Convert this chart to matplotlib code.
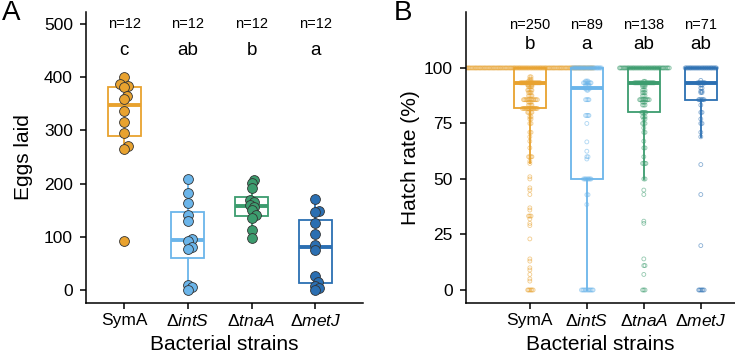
"""
Eggs laid and hatch rate per bacterial strain (two panels).
"""
import matplotlib
matplotlib.use("Agg")
import matplotlib.pyplot as plt
import numpy as np

plt.rcParams['font.family'] = ['Liberation Sans', 'DejaVu Sans']
plt.rcParams['mathtext.fontset'] = 'custom'
plt.rcParams['mathtext.rm'] = 'Liberation Sans'
plt.rcParams['mathtext.it'] = 'Liberation Sans:italic'

strains = ['SymA', r'$\Delta\mathit{intS}$', r'$\Delta\mathit{tnaA}$', r'$\Delta\mathit{metJ}$']
colors = ['#E8A22F', '#6BB5EA', '#3C9C6E', '#2B6FB2']

# panel A: eggs laid per female
syma_eggs = [401, 387, 384, 382, 365, 359, 336, 315, 295, 270, 265, 92]
ints_eggs = [208, 182, 164, 141, 130, 95, 92, 80, 77, 10, 5, 0]
tnaa_eggs = [207, 201, 192, 170, 165, 160, 156, 150, 141, 136, 113, 98]
metj_eggs = [172, 149, 146, 126, 105, 84, 76, 27, 15, 8, 3, 0]
eggs_n = ['n=12', 'n=12', 'n=12', 'n=12']
eggs_sig = ['c', 'ab', 'b', 'a']

# panel B: hatch rate (%) -> value and how many clutches had it
syma_rate = [0, 4, 5, 7, 9, 10, 13, 14, 23, 29, 30, 32, 33.3, 36, 37, 43, 45, 46, 50, 51,
             57, 58, 60, 64, 67, 69, 71, 75, 77, 78, 80,
             81.8, 83.3, 84.6, 85.7, 87.5, 88.9, 90, 91.7, 92.3, 93.3, 94.1, 95, 96, 100]
syma_cnt = [6, 1, 1, 1, 1, 1, 1, 1, 1, 1, 1, 1, 3, 1, 1, 1, 1, 1, 1, 1,
            1, 1, 4, 1, 1, 1, 2, 2, 2, 2, 5,
            15, 4, 3, 14, 4, 3, 5, 4, 5, 20, 3, 2, 2, 117]
ints_rate = [0, 38.5, 42.9, 50, 59, 60, 62.5, 66.7, 75, 78.6, 85.7, 90, 90.9, 92.3, 93.3, 94.1, 100]
ints_cnt = [12, 1, 2, 8, 1, 2, 1, 1, 1, 4, 4, 2, 6, 4, 8, 3, 29]
tnaa_rate = [0, 7, 11, 14, 30, 31, 43, 45, 50, 57, 60, 64, 67, 71, 73, 75, 77, 78, 80,
             83.3, 84.6, 85.7, 87.5, 88.9, 90, 91.7, 92.3, 93.3, 94, 100]
tnaa_cnt = [3, 1, 2, 1, 1, 1, 1, 1, 2, 4, 1, 2, 1, 2, 1, 3, 2, 3, 5,
            3, 3, 10, 3, 3, 3, 3, 3, 20, 2, 48]
metj_rate = [0, 20, 43, 56.5, 69, 71, 75, 77, 80, 83.3, 85.7, 88.9, 89.5, 90.9, 92.3, 93.3, 94.4, 100]
metj_cnt = [6, 1, 1, 1, 1, 1, 2, 1, 2, 1, 6, 2, 2, 2, 2, 8, 1, 31]
hatch_n = ['n=250', 'n=89', 'n=138', 'n=71']
hatch_sig = ['b', 'a', 'ab', 'ab']


def swarm(vals, xpx, ypx, dmin):
    # greedy beeswarm, offsets returned in data units of x
    order = np.argsort(vals)
    placed = []
    offs = np.zeros(len(vals))
    step = dmin / 3.0
    for i in order:
        y = vals[i] * ypx
        for j in range(2000):
            o = ((j + 1) // 2) * step * (1 if j % 2 else -1)
            ok = True
            for (px, py) in placed:
                if (px - o) ** 2 + (py - y) ** 2 < dmin ** 2:
                    ok = False
                    break
            if ok:
                break
        placed.append((o, y))
        offs[i] = o / xpx
    return offs


def style_box(bp, c, lw, mlw):
    for k, b in enumerate(bp['boxes']):
        b.set_facecolor('none')
        b.set_edgecolor(c[k])
        b.set_linewidth(lw)
        bp['medians'][k].set_color(c[k])
        bp['medians'][k].set_linewidth(mlw)
        bp['medians'][k].set_solid_capstyle('butt')
        for w in bp['whiskers'][2 * k:2 * k + 2]:
            w.set_color(c[k])
            w.set_linewidth(lw)


def style_ax(ax):
    for s in ['top', 'right']:
        ax.spines[s].set_visible(False)
    for s in ['left', 'bottom']:
        ax.spines[s].set_linewidth(1.1)
    ax.tick_params(direction='out', length=4, width=1.1, labelsize=12.5, colors='black')
    ax.tick_params(axis='y', pad=5.5)


fig = plt.figure(figsize=(7.35, 3.53), dpi=100)

# ---- panel A
ax = fig.add_axes([86 / 735, 50 / 353, 277 / 735, 291 / 353])
eggs = [syma_eggs, ints_eggs, tnaa_eggs, metj_eggs]
pos = [1, 2, 3, 4]
bp = ax.boxplot(eggs, positions=pos, widths=0.52, patch_artist=True, showcaps=False,
                showfliers=False, whis=1.5, zorder=2)
style_box(bp, colors, 1.3, 2.8)
for k, v in enumerate(eggs):
    v = np.array(v, dtype=float)
    off = swarm(v, 63.7, 0.532, 4.0)
    ax.scatter(pos[k] + off, v, s=50, color=colors[k], edgecolor='#333333',
               linewidth=0.6, zorder=3)
    ax.text(pos[k], 500, eggs_n[k], ha='center', va='center', fontsize=10.5)
    ax.text(pos[k], 451, eggs_sig[k], ha='center', va='center', fontsize=13.5)
ax.set_xlim(0.4, 4.75)
ax.set_ylim(-24.4, 522.6)
ax.set_yticks([0, 100, 200, 300, 400, 500])
ax.set_xticks(pos)
ax.set_xticklabels(strains)
style_ax(ax)
ax.set_ylabel('Eggs laid', fontsize=15, labelpad=8)
ax.set_xlabel('Bacterial strains', fontsize=15, labelpad=4)

# ---- panel B
ax2 = fig.add_axes([466 / 735, 50 / 353, 269 / 735, 291 / 353])
rates = [np.repeat(syma_rate, syma_cnt), np.repeat(ints_rate, ints_cnt),
         np.repeat(tnaa_rate, tnaa_cnt), np.repeat(metj_rate, metj_cnt)]
for k, v in enumerate(rates):
    v = np.array(v, dtype=float)
    off = swarm(v, 57.0, 2.22, 0.9)
    ax2.scatter(pos[k] + off, v, s=8, facecolor='none', edgecolor=colors[k],
                linewidth=0.6, alpha=0.55, zorder=2)
    ax2.text(pos[k], 119.4, hatch_n[k], ha='center', va='center', fontsize=10.5)
    ax2.text(pos[k], 110.4, hatch_sig[k], ha='center', va='center', fontsize=13.5)
bp2 = ax2.boxplot(rates, positions=pos, widths=0.56, patch_artist=True, showcaps=False,
                  showfliers=False, whis=1.5, zorder=3)
style_box(bp2, colors, 1.3, 2.8)
ax2.set_xlim(-0.12, 4.6)
ax2.set_ylim(-5.86, 125.2)
ax2.set_yticks([0, 25, 50, 75, 100])
ax2.set_xticks(pos)
ax2.set_xticklabels(strains)
style_ax(ax2)
ax2.set_ylabel('Hatch rate (%)', fontsize=15, labelpad=3)
ax2.set_xlabel('Bacterial strains', fontsize=15, labelpad=4)

fig.text(2 / 735, 1.0, 'A', fontsize=20, ha='left', va='top')
fig.text(394 / 735, 1.0, 'B', fontsize=20, ha='left', va='top')

plt.savefig('out.png', dpi=100)
